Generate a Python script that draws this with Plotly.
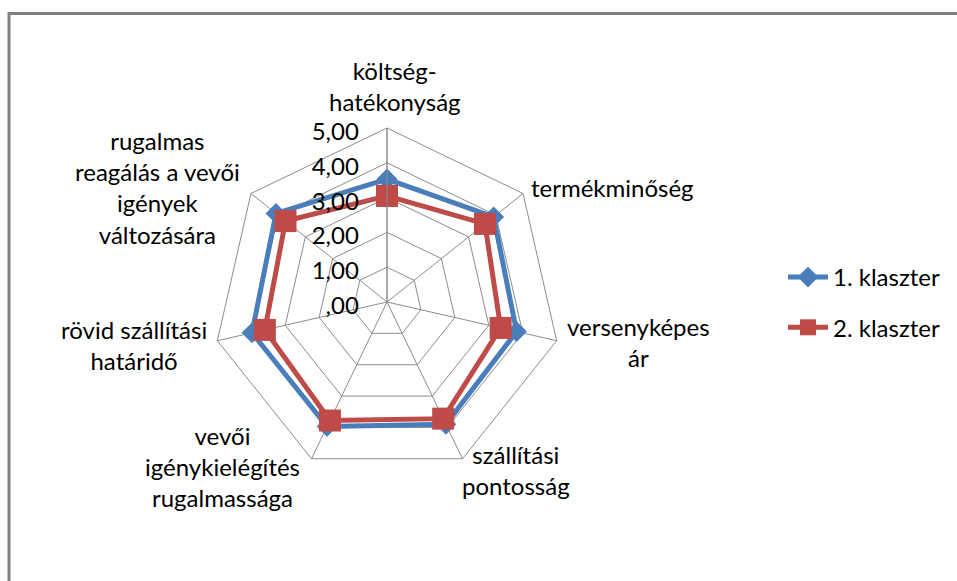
import plotly.graph_objects as go

categories = [
    "költség-hatékonyság",
    "termékminőség",
    "versenyképes ár",
    "szállítási pontosság",
    "vevői igénykielégítés rugalmassága",
    "rövid szállítási határidő",
    "rugalmas reagálás a vevői igények változására",
]
category_labels = [
    "költség-<br>hatékonyság",
    "termékminőség",
    "versenyképes<br>ár",
    "szállítási<br>pontosság",
    "vevői<br>igénykielégítés<br>rugalmassága",
    "rövid szállítási<br>határidő",
    "rugalmas<br>reagálás a vevői<br>igények<br>változására",
]
klaszter1 = [3.53, 3.92, 3.82, 3.90, 3.97, 3.98, 4.08]
klaszter2 = [3.05, 3.60, 3.35, 3.72, 3.78, 3.60, 3.73]
series_names = ["1. klaszter", "2. klaszter"]
tick_vals = [0, 1, 2, 3, 4, 5]
tick_text = [",00", "1,00", "2,00", "3,00", "4,00", "5,00"]

W, H = 957, 581
FONT = "Lato, 'Liberation Sans', Arial, sans-serif"
BLUE = "#4A7EBB"
RED = "#BE4B48"
GRID = "#8C8C8C"

# label block centres in pixels (layout, not data)
label_pos = [(395, 86), (612, 187), (638, 342), (516, 470),
             (222, 466), (134, 345), (157, 188)]

fig = go.Figure()
fig.add_trace(go.Scatterpolar(
    r=klaszter1 + [klaszter1[0]], theta=categories + [categories[0]],
    mode="lines+markers", name=series_names[0], legendgroup="a",
    line=dict(color=BLUE, width=5),
    marker=dict(symbol="diamond", size=16, color=BLUE),
))
fig.add_trace(go.Scatterpolar(
    r=klaszter2 + [klaszter2[0]], theta=categories + [categories[0]],
    mode="lines+markers", name=series_names[1], legendgroup="b",
    line=dict(color=RED, width=5),
    marker=dict(symbol="square", size=22, color=RED),
))

annotations = [
    dict(text=lab, x=px / W, y=1 - py / H, xref="paper", yref="paper",
         xanchor="center", yanchor="middle", align="center", showarrow=False,
         font=dict(size=24, family=FONT, color="black"))
    for lab, (px, py) in zip(category_labels, label_pos)
]

fig.update_layout(
    width=W, height=H,
    margin=dict(l=0, r=0, t=0, b=0),
    paper_bgcolor="white",
    font=dict(family=FONT, size=24, color="black"),
    polar=dict(
        domain=dict(x=[213 / W, 561 / W], y=[105 / H, 453 / H]),
        bgcolor="white",
        gridshape="linear",
        radialaxis=dict(
            range=[0, 5], tickvals=tick_vals, ticktext=tick_text,
            angle=90, side="counterclockwise",
            showline=True, linecolor=GRID, linewidth=1,
            gridcolor=GRID, gridwidth=1,
            ticks="outside", ticklen=6, tickcolor="rgba(0,0,0,0)",
            tickfont=dict(size=24, family=FONT),
        ),
        angularaxis=dict(
            rotation=90, direction="clockwise",
            showline=True, linecolor=GRID, linewidth=1,
            gridcolor=GRID, gridwidth=1,
            ticks="", showticklabels=False,
        ),
    ),
    annotations=annotations,
    legend=dict(
        x=783 / W, y=1 - 255 / H, xanchor="left", yanchor="top",
        font=dict(size=24, family=FONT),
        tracegroupgap=16, itemwidth=40,
        bgcolor="rgba(0,0,0,0)",
    ),
    shapes=[
        dict(type="line", xref="paper", yref="paper",
             x0=8 / W, x1=1.0, y0=1 - 13.5 / H, y1=1 - 13.5 / H,
             line=dict(color="#808080", width=3)),
        dict(type="line", xref="paper", yref="paper",
             x0=9 / W, x1=9 / W, y0=0, y1=1 - 12 / H,
             line=dict(color="#808080", width=3)),
    ],
)

fig.write_html("out.html", config={"displayModeBar": False},
               post_script="document.body.style.margin='0';")
